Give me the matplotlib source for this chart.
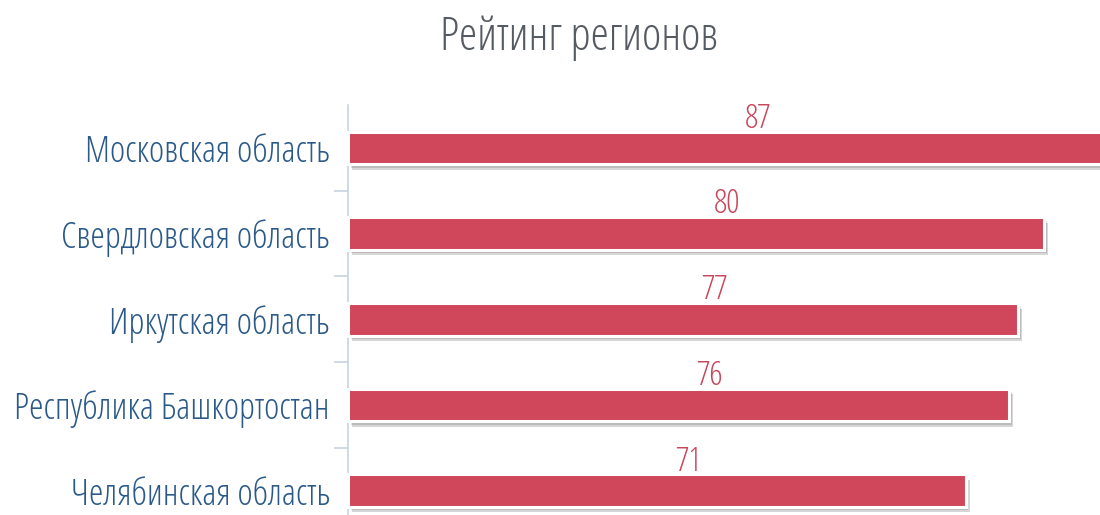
import matplotlib
matplotlib.use("Agg")
import matplotlib.pyplot as plt
import matplotlib.patheffects as pe
from matplotlib.ticker import FixedLocator

# Рейтинг регионов — горизонтальная столбчатая диаграмма
regions = [
    "Московская область",
    "Свердловская область",
    "Иркутская область",
    "Республика Башкортостан",
    "Челябинская область",
]
scores = [87, 80, 77, 76, 71]

BAR_COLOR = "#d0465a"
LABEL_COLOR = "#2b5a8a"
VALUE_COLOR = "#c8475a"
TITLE_COLOR = "#555b62"
AXIS_COLOR = "#c6d3e2"
FONT = dict(family=["Open Sans", "DejaVu Sans"], fontstretch="condensed", fontweight=300)

W, H = 1100, 515
fig = plt.figure(figsize=(W / 100, H / 100), dpi=100)
fig.patch.set_facecolor("white")

# plot area (pixels): left 348, top 105, one band = 85.7 px, 8.7 px per point
ax = fig.add_axes([348 / W, 1 - 533.5 / H, 870 / W, 428.5 / H])
ax.set_xlim(0, 100)
ax.set_ylim(len(regions) - 0.5, -0.5)

y = list(range(len(regions)))
shadow = [pe.SimplePatchShadow(offset=(3, -4), shadow_rgbFace="#000000", alpha=0.16),
          pe.SimplePatchShadow(offset=(2, -2.5), shadow_rgbFace="#000000", alpha=0.12),
          pe.Normal()]
bars = ax.barh(y, scores, height=0.38, color=BAR_COLOR, edgecolor="white",
               linewidth=2.2, zorder=3)
for b in bars:
    b.set_path_effects(shadow)
    b.set_clip_on(False)

for yi, v in zip(y, scores):
    ax.text(v / 2 + 3.6, yi - 0.235, str(v), ha="center", va="baseline",
            fontsize=24, color=VALUE_COLOR, zorder=4, **FONT)

for s in ("top", "right", "bottom"):
    ax.spines[s].set_visible(False)
ax.spines["left"].set_color(AXIS_COLOR)
ax.spines["left"].set_linewidth(1.2)
ax.set_xticks([])

ax.yaxis.set_major_locator(FixedLocator(y))
ax.set_yticklabels(regions, fontsize=26.4, color=LABEL_COLOR, **FONT)
ax.tick_params(axis="y", which="major", length=0, pad=13)
ax.yaxis.set_minor_locator(FixedLocator([i + 0.5 for i in y[:-1]]))
ax.tick_params(axis="y", which="minor", length=10, width=1.2, color=AXIS_COLOR)

fig.text(579 / W, 1 - 38 / H, "Рейтинг регионов", ha="center", va="center",
         fontsize=33.4, color=TITLE_COLOR, **FONT)

fig.savefig("out.png", dpi=100, facecolor="white")
